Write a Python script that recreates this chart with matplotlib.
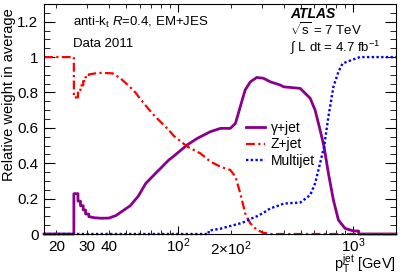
import matplotlib
matplotlib.use("Agg")
import matplotlib.pyplot as plt
from matplotlib.ticker import FixedLocator, FuncFormatter

# values
gamma_pt = [17, 25.2, 25.2, 26.6, 26.6, 27.5, 27.5, 28.5, 28.5, 29.4, 29.4, 30.7, 30.7,
            33, 36, 40, 44, 46.6, 53, 59, 65, 74, 79, 88, 94, 112, 128, 152, 174, 198,
            212, 226, 241, 258, 281, 307, 336, 383, 400, 498, 568, 606, 647, 682, 722,
            771, 824, 899, 1004, 1075, 1075, 1760]
gamma_w = [0, 0, 0.228, 0.228, 0.186, 0.186, 0.16, 0.16, 0.136, 0.136, 0.113, 0.113, 0.098,
           0.092, 0.089, 0.09, 0.105, 0.122, 0.16, 0.215, 0.286, 0.343, 0.371, 0.418, 0.44,
           0.503, 0.54, 0.578, 0.597, 0.597, 0.625, 0.72, 0.814, 0.86, 0.885, 0.88, 0.86,
           0.842, 0.832, 0.823, 0.767, 0.70, 0.588, 0.493, 0.343, 0.192, 0.079, 0.032,
           0.017, 0.017, 0, 0]

z_pt = [17, 25.2, 25.2, 26.6, 26.6, 27.5, 27.5, 28.5, 28.5, 29.4, 29.4, 30.7, 30.7,
        33, 36, 42, 46.6, 55.6, 63.4, 72.3, 79, 88, 94, 112, 134, 152, 174, 198, 212,
        226, 241, 258, 281, 307, 336, 1760]
z_w = [1, 1, 0.772, 0.772, 0.814, 0.814, 0.84, 0.84, 0.864, 0.864, 0.887, 0.887, 0.902,
       0.907, 0.911, 0.908, 0.88, 0.81, 0.738, 0.672, 0.634, 0.588, 0.555, 0.495, 0.455,
       0.41, 0.38, 0.362, 0.324, 0.23, 0.117, 0.06, 0.023, 0.007, 0, 0]

multi_pt = [17, 149, 149, 174, 198, 226, 241, 258, 281, 307, 336, 383, 400, 498, 568,
            606, 647, 682, 722, 771, 824, 870, 1004, 1094, 1760]
multi_w = [0, 0, 0.019, 0.03, 0.045, 0.06, 0.07, 0.085, 0.1, 0.12, 0.145, 0.164, 0.172,
           0.178, 0.22, 0.286, 0.40, 0.493, 0.663, 0.832, 0.917, 0.964, 0.987, 1.0, 1.0]

x_labels = {20: "20", 30: "30", 40: "40", 100: "$10^{2}$", 200: "$2{\\times}10^{2}$",
            1000: "$10^{3}$"}

plt.rcParams["font.family"] = ["Liberation Sans", "DejaVu Sans"]
plt.rcParams["mathtext.fontset"] = "custom"
plt.rcParams["mathtext.rm"] = "Liberation Sans"
plt.rcParams["mathtext.it"] = "Liberation Sans:italic"
plt.rcParams["mathtext.bf"] = "Liberation Sans:bold"

fig = plt.figure(figsize=(4.07, 2.76), dpi=100)
ax = fig.add_axes([44 / 407, 42 / 276, 352 / 407, 230 / 276])

ax.plot(gamma_pt, gamma_w, color="#8b008b", lw=2.0, label="γ+jet", clip_on=False)
ax.plot(z_pt, z_w, color="red", lw=1.6, dashes=(4, 1.5, 1, 1.5), label="Z+jet", clip_on=False)
ax.plot(multi_pt, multi_w, color="blue", lw=1.7, dashes=(1, 1), label="Multijet", clip_on=False)

ax.set_xscale("log")
ax.set_xlim(17, 1760)
ax.set_ylim(0, 1.3)

ax.xaxis.set_major_locator(FixedLocator([100, 1000]))
minor = [m * 10 for m in range(2, 10)] + [m * 100 for m in range(2, 10)]
ax.xaxis.set_minor_locator(FixedLocator(minor))
fmt = FuncFormatter(lambda v, p: x_labels.get(int(round(v)), ""))
ax.xaxis.set_major_formatter(fmt)
ax.xaxis.set_minor_formatter(fmt)

ax.set_yticks([0, 0.2, 0.4, 0.6, 0.8, 1.0, 1.2])
ax.set_yticklabels(["0", "0.2", "0.4", "0.6", "0.8", "1", "1.2"])
ax.set_yticks([i * 0.05 for i in range(27)], minor=True)

ax.tick_params(which="both", direction="in", top=True, right=True, labelsize=11)
ax.tick_params(axis="y", which="major", length=8, pad=4)
ax.tick_params(axis="y", which="minor", length=4)
ax.tick_params(axis="x", which="major", length=6, pad=1.5)
ax.tick_params(axis="x", which="minor", length=3, pad=4)

fig.text(9 / 407, 1 - 95 / 276, "Relative weight in average", rotation=90, fontsize=10.5,
         ha="center", va="center")
fig.text(396 / 407, 6 / 276, "$\\mathrm{p}_{\\mathrm{T}}^{\\mathrm{jet}}$ [GeV]", fontsize=10.5,
         ha="right", va="baseline")

ax.text(0.083, 0.905, "anti-k$_{\\mathrm{t}}$ $R$=0.4, EM+JES", transform=ax.transAxes,
        fontsize=9.5)
ax.text(0.083, 0.815, "Data 2011", transform=ax.transAxes, fontsize=9.5)
ax.text(0.70, 0.94, "ATLAS", transform=ax.transAxes, fontsize=10, fontweight="bold",
        fontstyle="italic")
ax.text(0.70, 0.865, "$\\sqrt{\\mathrm{s}}$ = 7 TeV", transform=ax.transAxes, fontsize=9.5)
ax.text(0.70, 0.795, "∫ L dt = 4.7 fb$^{\\mathrm{-1}}$", transform=ax.transAxes, fontsize=9.5)

ax.legend(loc="upper left", bbox_to_anchor=(0.545, 0.535), frameon=False, fontsize=10,
          handlelength=1.4, handletextpad=0.4, labelspacing=0.2, borderpad=0.2)

fig.savefig("out.png", dpi=100)
